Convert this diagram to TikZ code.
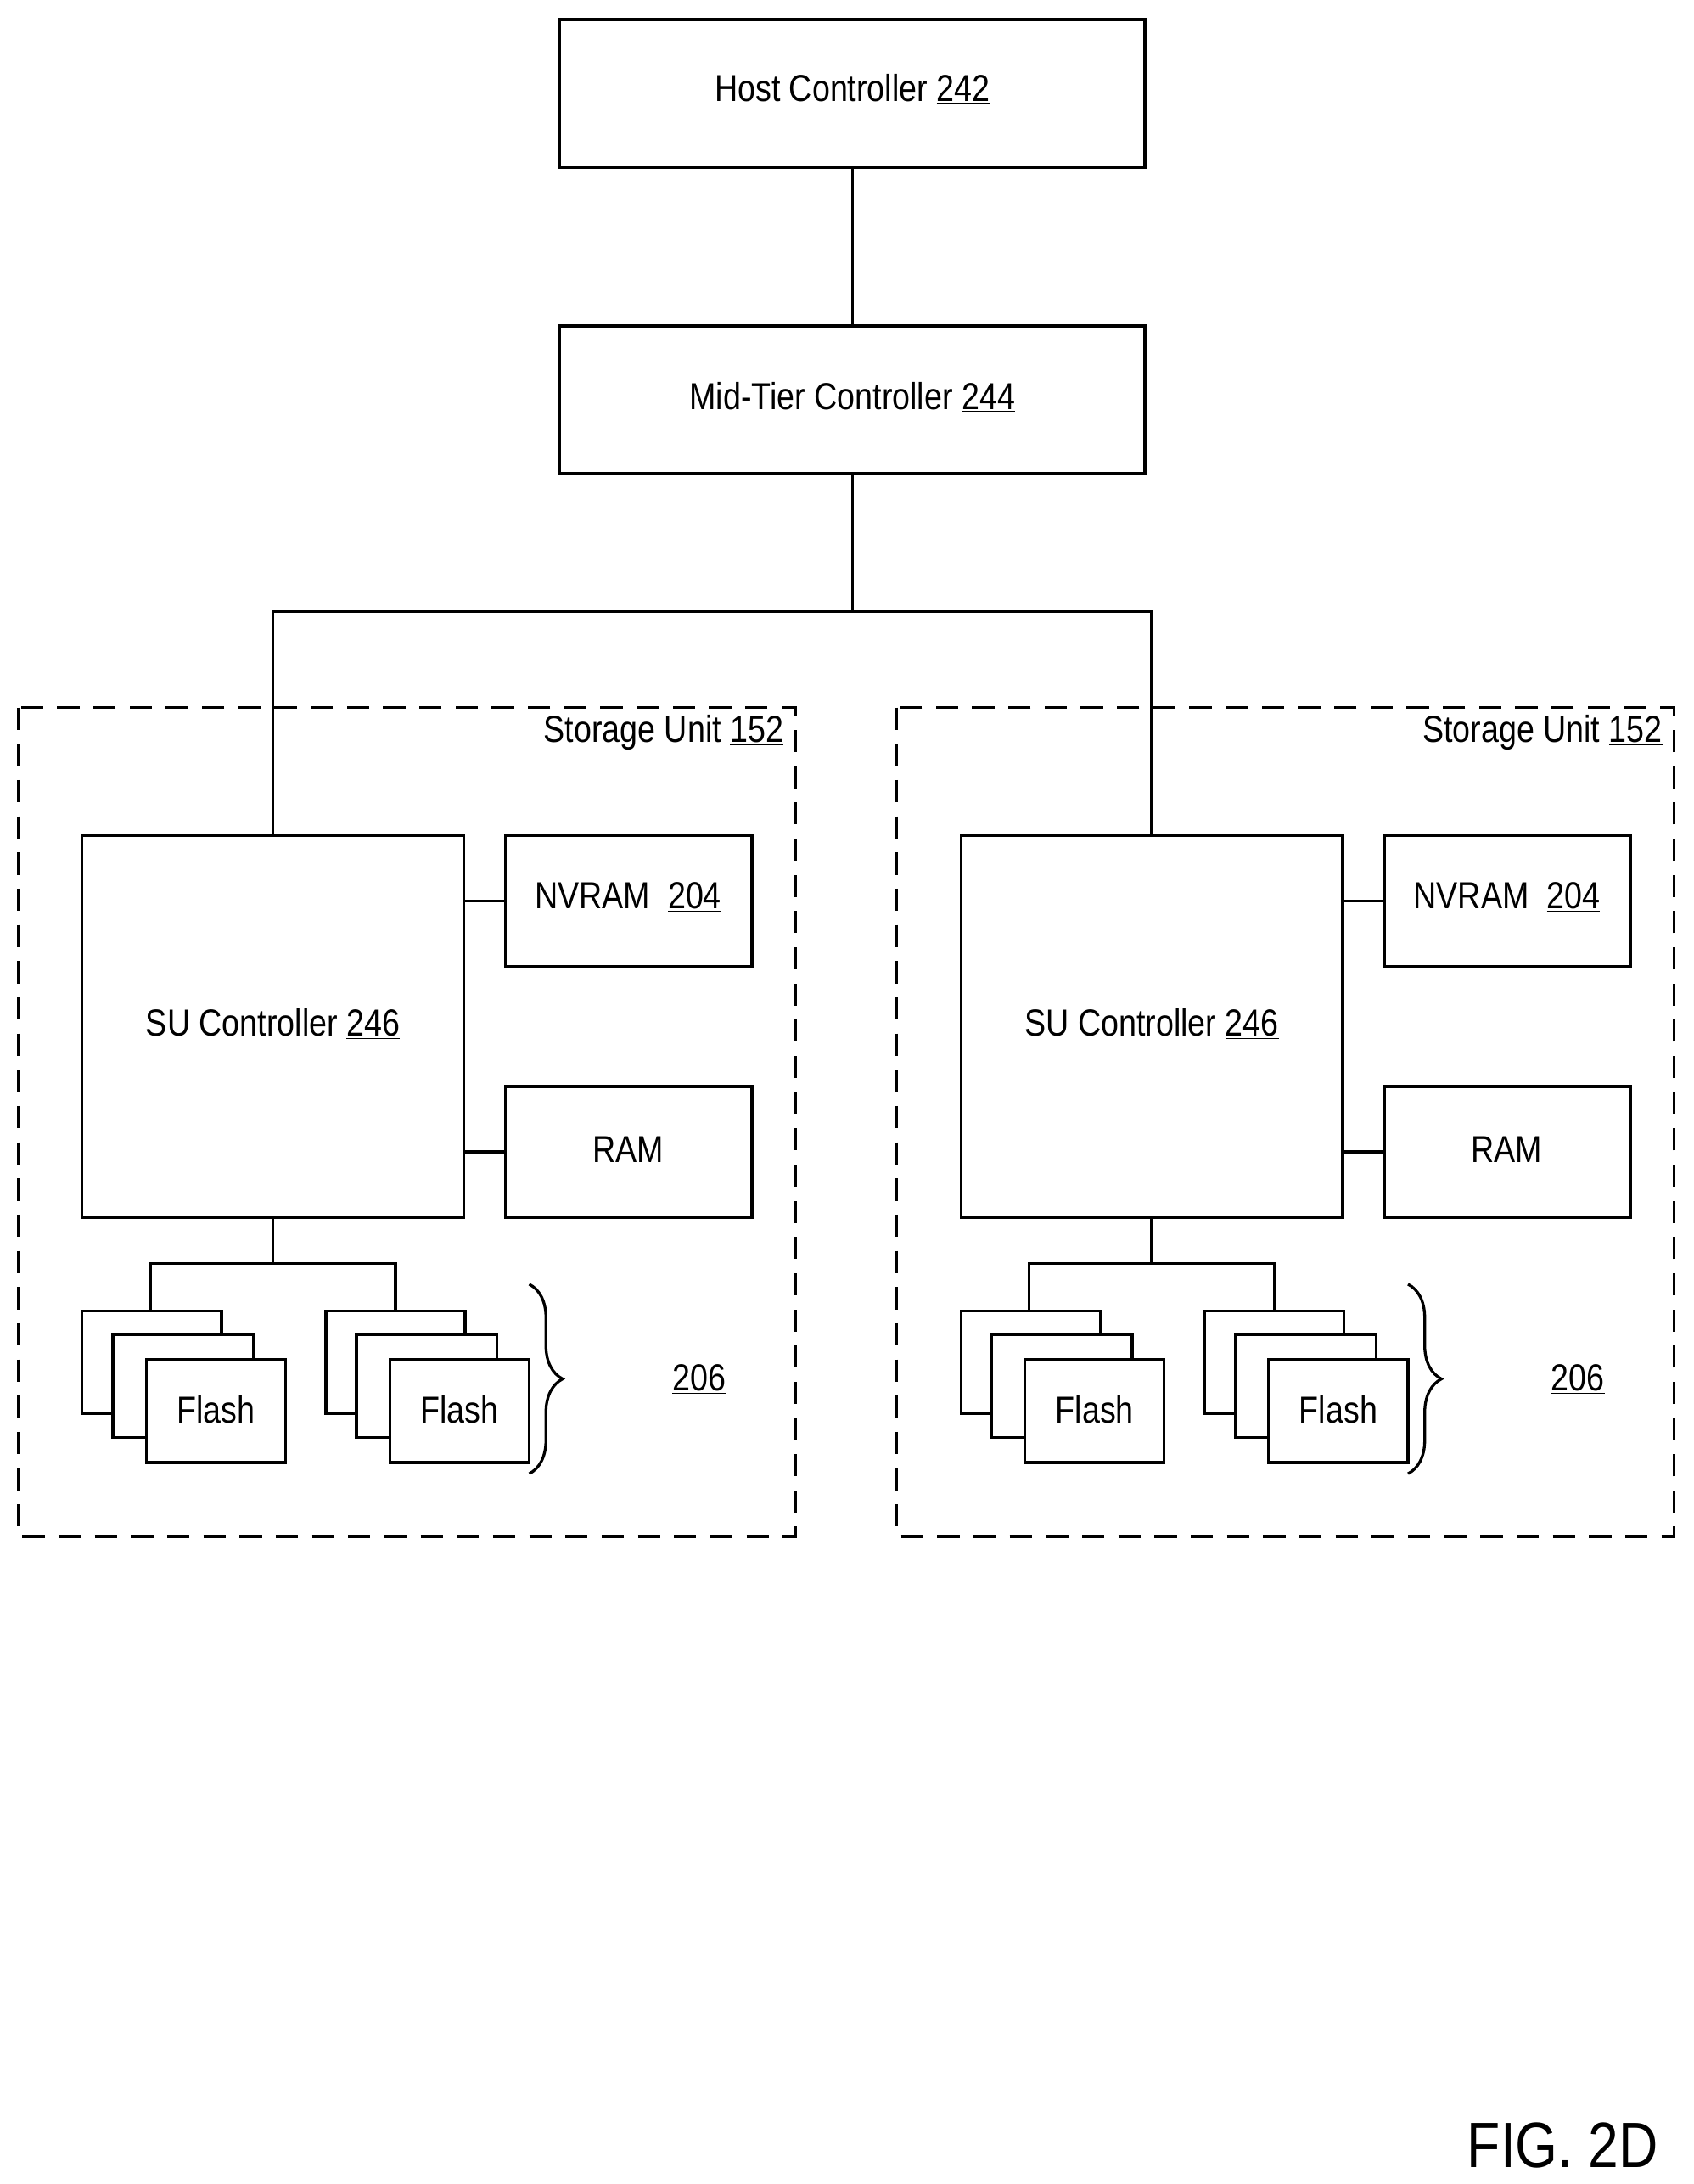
\documentclass[tikz,border=0pt]{standalone}
\usepackage{fontspec}
\setmainfont{Liberation Sans}[FakeStretch=0.85]
\usetikzlibrary{decorations.pathreplacing}
\begin{document}
\begin{tikzpicture}[x=1pt,y=-1pt,line width=2pt,
  box/.style={draw,fill=white},
  lbl/.style={font=\fontsize{27}{30}\selectfont},
  su/.style={draw,dash pattern=on 16pt off 10pt}]
\useasboundingbox (0,0) rectangle (1216,1568);
\draw[box] (402,14) rectangle (822,120);
\node[lbl] (host) at (612,64) {Host Controller \underline{242}};
\draw[box] (402,234) rectangle (822,340);
\node[lbl] (mid) at (612,285) {Mid-Tier Controller \underline{244}};
\coordinate (h) at (612,120); \coordinate (m1) at (612,234); \coordinate (m2) at (612,340);
\coordinate (b) at (612,439);
\draw (h) -- (m1);
\draw (m2) -- (b);
\draw (196,600) -- (196,439) -- (827,439) -- (827,600);
\foreach \dx in {0,631}{
\begin{scope}[xshift=\dx]
\draw[su] (13,508) rectangle (571,1103);
\node[lbl,anchor=east] at (567,526) {Storage Unit \underline{152}};
\draw[box] (59,600) rectangle (333,874);
\node[lbl] at (196,735) {SU Controller \underline{246}};
\draw[box] (363,600) rectangle (540,694);
\node[lbl] at (451,644) {NVRAM\ \ \underline{204}};
\draw[box] (363,780) rectangle (540,874);
\node[lbl] at (451,825) {RAM};
\draw (333,647) -- (363,647);
\draw (333,827) -- (363,827);
\draw (196,874) -- (196,907);
\draw (108,941) -- (108,907) -- (284,907) -- (284,941);
\foreach \fx in {0,175}{
\draw[box] (59+\fx,941) rectangle (159+\fx,1015);
\draw[box] (81+\fx,958) rectangle (182+\fx,1032);
\draw[box] (105+\fx,976) rectangle (205+\fx,1050);
\node[lbl] at (155+\fx,1012) {Flash};
}
\draw[decorate,decoration={brace,amplitude=24pt}] (380,922) -- (380,1058);
\node[lbl] at (502,990) {\underline{206}};
\end{scope}}
\node[font=\fontsize{46}{50}\selectfont] at (1122,1540) {FIG. 2D};
\end{tikzpicture}
\end{document}
